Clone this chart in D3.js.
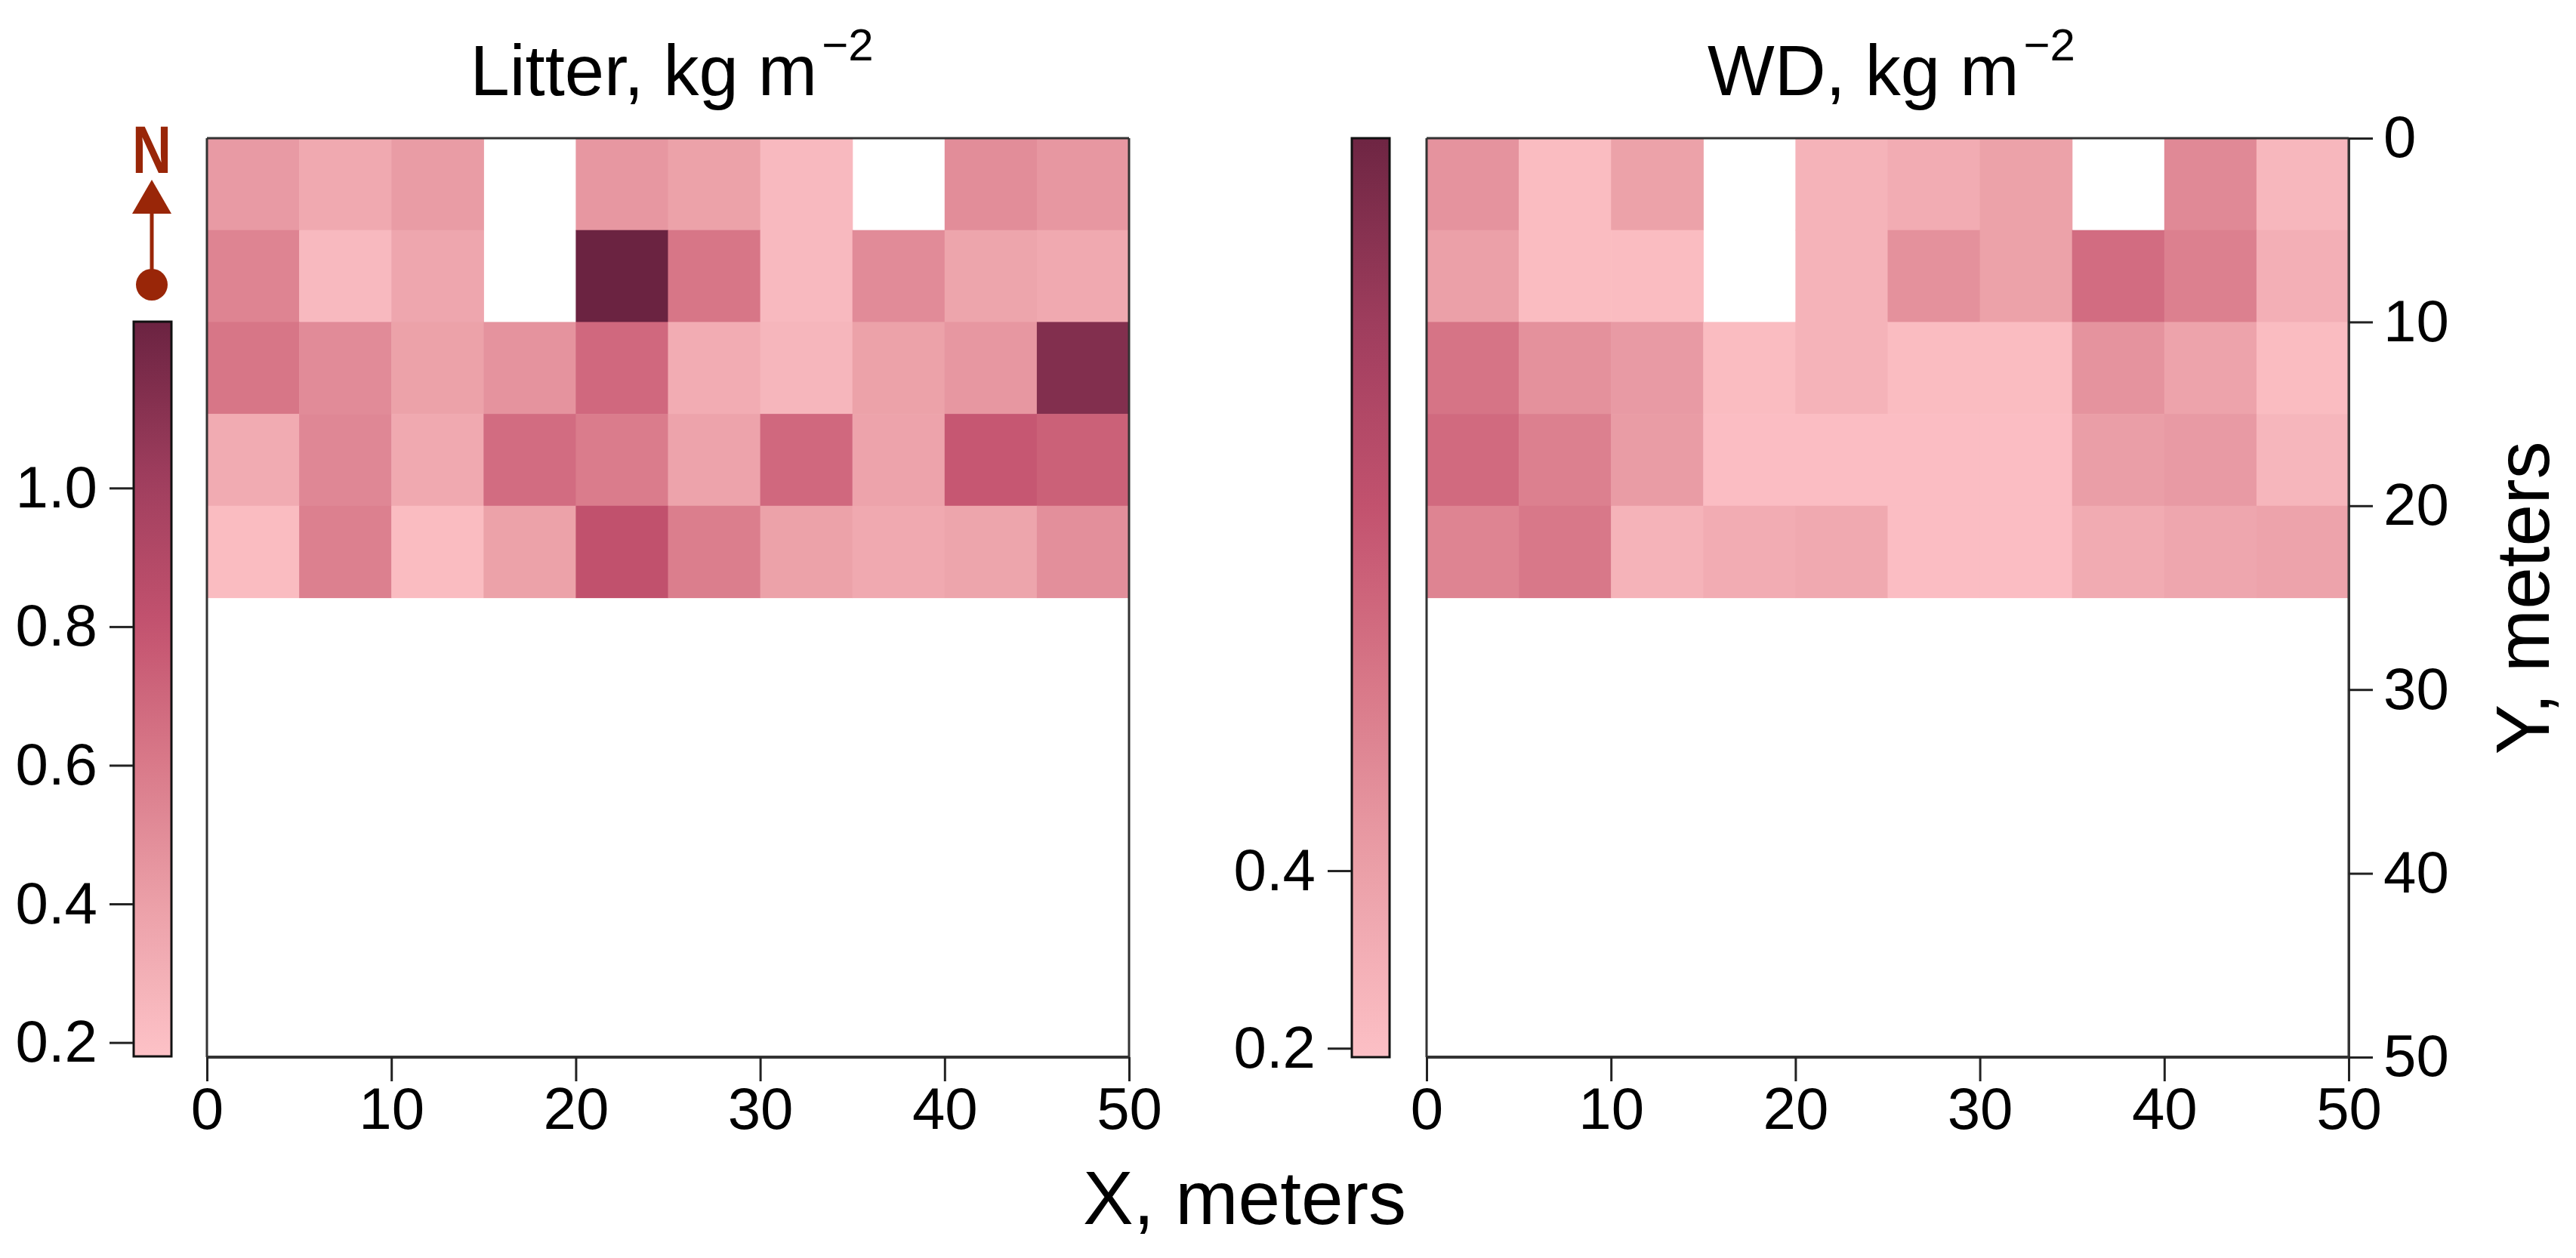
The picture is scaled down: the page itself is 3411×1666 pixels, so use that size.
<!DOCTYPE html>
<html>
<head>
<meta charset="utf-8">
<script src="https://cdn.jsdelivr.net/npm/d3@7"></script>
<style>
	body { margin: 0; background: #fff; }
	text { font-family: "Liberation Sans", Arial, sans-serif; fill: #000; }
</style>
</head>
<body>
<div id="chart"></div>
<script>
(function () {
	'use strict';

	// grid cells are 5 x 5 m, rows run from Y = 0 (top) downwards, null = no data
	var cellX = [0, 5, 10, 15, 20, 25, 30, 35, 40, 45];
	var cellY = [0, 5, 10, 15, 20];

	var litterValues = [
		[0.43, 0.34, 0.42, null, 0.45, 0.39, 0.24, null, 0.50, 0.45],
		[0.55, 0.24, 0.36, null, 1.24, 0.62, 0.24, 0.51, 0.37, 0.34],
		[0.62, 0.51, 0.39, 0.47, 0.69, 0.32, 0.26, 0.39, 0.45, 1.14],
		[0.33, 0.53, 0.34, 0.67, 0.59, 0.38, 0.69, 0.38, 0.78, 0.73],
		[0.22, 0.57, 0.22, 0.39, 0.82, 0.58, 0.39, 0.34, 0.37, 0.49]
	];

	var wdValues = [
		[0.47, 0.22, 0.39, null, 0.28, 0.32, 0.39, null, 0.52, 0.25],
		[0.40, 0.22, 0.22, null, 0.28, 0.48, 0.39, 0.67, 0.57, 0.30],
		[0.63, 0.48, 0.43, 0.22, 0.28, 0.22, 0.22, 0.47, 0.38, 0.22],
		[0.68, 0.57, 0.42, 0.21, 0.21, 0.21, 0.21, 0.41, 0.43, 0.26],
		[0.55, 0.61, 0.28, 0.32, 0.34, 0.21, 0.21, 0.33, 0.36, 0.38]
	];

	var xTicks = [0, 10, 20, 30, 40, 50];
	var yTicks = [0, 10, 20, 30, 40, 50];
	var litterTicks = [0.2, 0.4, 0.6, 0.8, 1.0];
	var wdTicks = [0.2, 0.4];
	var litterRange = [0.18, 1.24];
	var wdRange = [0.19, 1.225];

	var W = 3411, H = 1666;
	var svg = d3.select("#chart").append("svg")
		.attr("width", W)
		.attr("height", H);

	// shared colour ramp, light pink to dark maroon
	var color = d3.scaleLinear()
		.domain([0.18, 0.4, 0.6, 0.8, 1.0, 1.24])
		.range(["#fdc2c7", "#eba0a8", "#d97a8a", "#c4536f", "#a23f5f", "#6b2341"])
		.clamp(true);

	var fmt = d3.format(".1f");

	function colorbar(id, x0, x1, yTop, yBottom, range, ticks) {
		var s = d3.scaleLinear().domain(range).range([yBottom, yTop]);
		var grad = svg.append("defs").append("linearGradient")
			.attr("id", id)
			.attr("x1", 0).attr("y1", 1).attr("x2", 0).attr("y2", 0);
		d3.range(0, 1.0001, 0.05).forEach(function (t) {
			grad.append("stop")
				.attr("offset", t)
				.attr("stop-color", color(range[0] + t * (range[1] - range[0])));
		});
		svg.append("rect")
			.attr("x", x0).attr("y", yTop)
			.attr("width", x1 - x0).attr("height", yBottom - yTop)
			.attr("fill", "url(#" + id + ")")
			.attr("stroke", "#111")
			.attr("stroke-width", 3);

		var ax = svg.append("g")
			.attr("transform", "translate(" + (x0 - 1) + ",0)")
			.call(d3.axisLeft(s).tickValues(ticks).tickFormat(fmt).tickSize(31).tickPadding(16));
		ax.select(".domain").remove();
		ax.selectAll(".tick line").attr("stroke", "#222").attr("stroke-width", 3);
		ax.selectAll(".tick text")
			.attr("font-size", 78)
			.attr("font-family", "Liberation Sans, Arial, sans-serif")
			.attr("fill", "#000");
	}

	function panel(x0, x1, yTop, yBottom, values, title) {
		var x = d3.scaleLinear().domain([0, 50]).range([x0, x1]);
		var y = d3.scaleLinear().domain([0, 50]).range([yTop, yBottom]);

		var cells = [];
		values.forEach(function (row, r) {
			row.forEach(function (v, c) {
				if (v !== null) cells.push({ x: cellX[c], y: cellY[r], v: v });
			});
		});

		svg.append("g").selectAll("rect")
			.data(cells)
			.enter()
			.append("rect")
			.attr("x", function (d) { return x(d.x); })
			.attr("y", function (d) { return y(d.y); })
			.attr("width", x(5) - x(0) + 0.6)
			.attr("height", y(5) - y(0) + 0.6)
			.attr("fill", function (d) { return color(d.v); });

		// frame
		var frame = svg.append("g")
			.attr("stroke", "#333")
			.attr("stroke-width", 3)
			.attr("fill", "none");
		frame.append("line").attr("x1", x0).attr("x2", x1).attr("y1", yTop).attr("y2", yTop);
		frame.append("line").attr("x1", x0).attr("x2", x0).attr("y1", yTop).attr("y2", yBottom);
		frame.append("line").attr("x1", x1).attr("x2", x1).attr("y1", yTop).attr("y2", yBottom);
		frame.append("line").attr("x1", x0).attr("x2", x1).attr("y1", yBottom).attr("y2", yBottom)
			.attr("stroke-width", 4);

		var xa = svg.append("g")
			.attr("transform", "translate(0," + yBottom + ")")
			.call(d3.axisBottom(x).tickValues(xTicks).tickFormat(d3.format("d")).tickSize(32).tickPadding(8));
		xa.select(".domain").remove();
		xa.selectAll(".tick line").attr("stroke", "#222").attr("stroke-width", 3);
		xa.selectAll(".tick text")
			.attr("font-size", 78)
			.attr("font-family", "Liberation Sans, Arial, sans-serif")
			.attr("fill", "#000");

		var t = svg.append("text")
			.attr("x", (x0 + x1) / 2 + 5)
			.attr("y", 126)
			.attr("text-anchor", "middle")
			.attr("font-size", 94);
		t.append("tspan").text(title + ", kg m");
		t.append("tspan").attr("dx", 6).attr("dy", -46).attr("font-size", 60).text("\u22122");

		return { x: x, y: y };
	}

	// left: litter
	colorbar("gradLitter", 177, 227, 426, 1399, litterRange, litterTicks);
	panel(274, 1495, 183, 1400, litterValues, "Litter");

	// right: woody debris
	colorbar("gradWD", 1790, 1840, 183, 1400, wdRange, wdTicks);
	var right = panel(1889, 3110, 183, 1400, wdValues, "WD");

	var ya = svg.append("g")
		.attr("transform", "translate(3110,0)")
		.call(d3.axisRight(right.y).tickValues(yTicks).tickFormat(d3.format("d")).tickSize(32).tickPadding(14));
	ya.select(".domain").attr("stroke", "#333").attr("stroke-width", 3);
	ya.selectAll(".tick line").attr("stroke", "#222").attr("stroke-width", 3);
	ya.selectAll(".tick text")
		.attr("font-size", 78)
		.attr("font-family", "Liberation Sans, Arial, sans-serif")
		.attr("fill", "#000");

	// axis titles
	svg.append("text")
		.attr("x", 1648)
		.attr("y", 1621)
		.attr("text-anchor", "middle")
		.attr("font-size", 100)
		.text("X, meters");

	svg.append("text")
		.attr("transform", "translate(3375,792) rotate(-90)")
		.attr("text-anchor", "middle")
		.attr("font-size", 100)
		.text("Y, meters");

	// north arrow
	var north = "#992608";
	var n = svg.append("g");
	n.append("text")
		.attr("x", 201)
		.attr("y", 229)
		.attr("text-anchor", "middle")
		.attr("font-size", 89)
		.attr("font-weight", "bold")
		.attr("textLength", 52)
		.attr("lengthAdjust", "spacingAndGlyphs")
		.style("fill", north)
		.text("N");
	n.append("path")
		.attr("d", d3.line()([[201, 238], [227, 283], [175, 283]]) + "Z")
		.attr("fill", north);
	n.append("line")
		.attr("x1", 201).attr("x2", 201)
		.attr("y1", 280).attr("y2", 377)
		.attr("stroke", north)
		.attr("stroke-width", 5);
	n.append("circle")
		.attr("cx", 201).attr("cy", 377).attr("r", 21)
		.attr("fill", north);
}());
</script>
</body>
</html>
